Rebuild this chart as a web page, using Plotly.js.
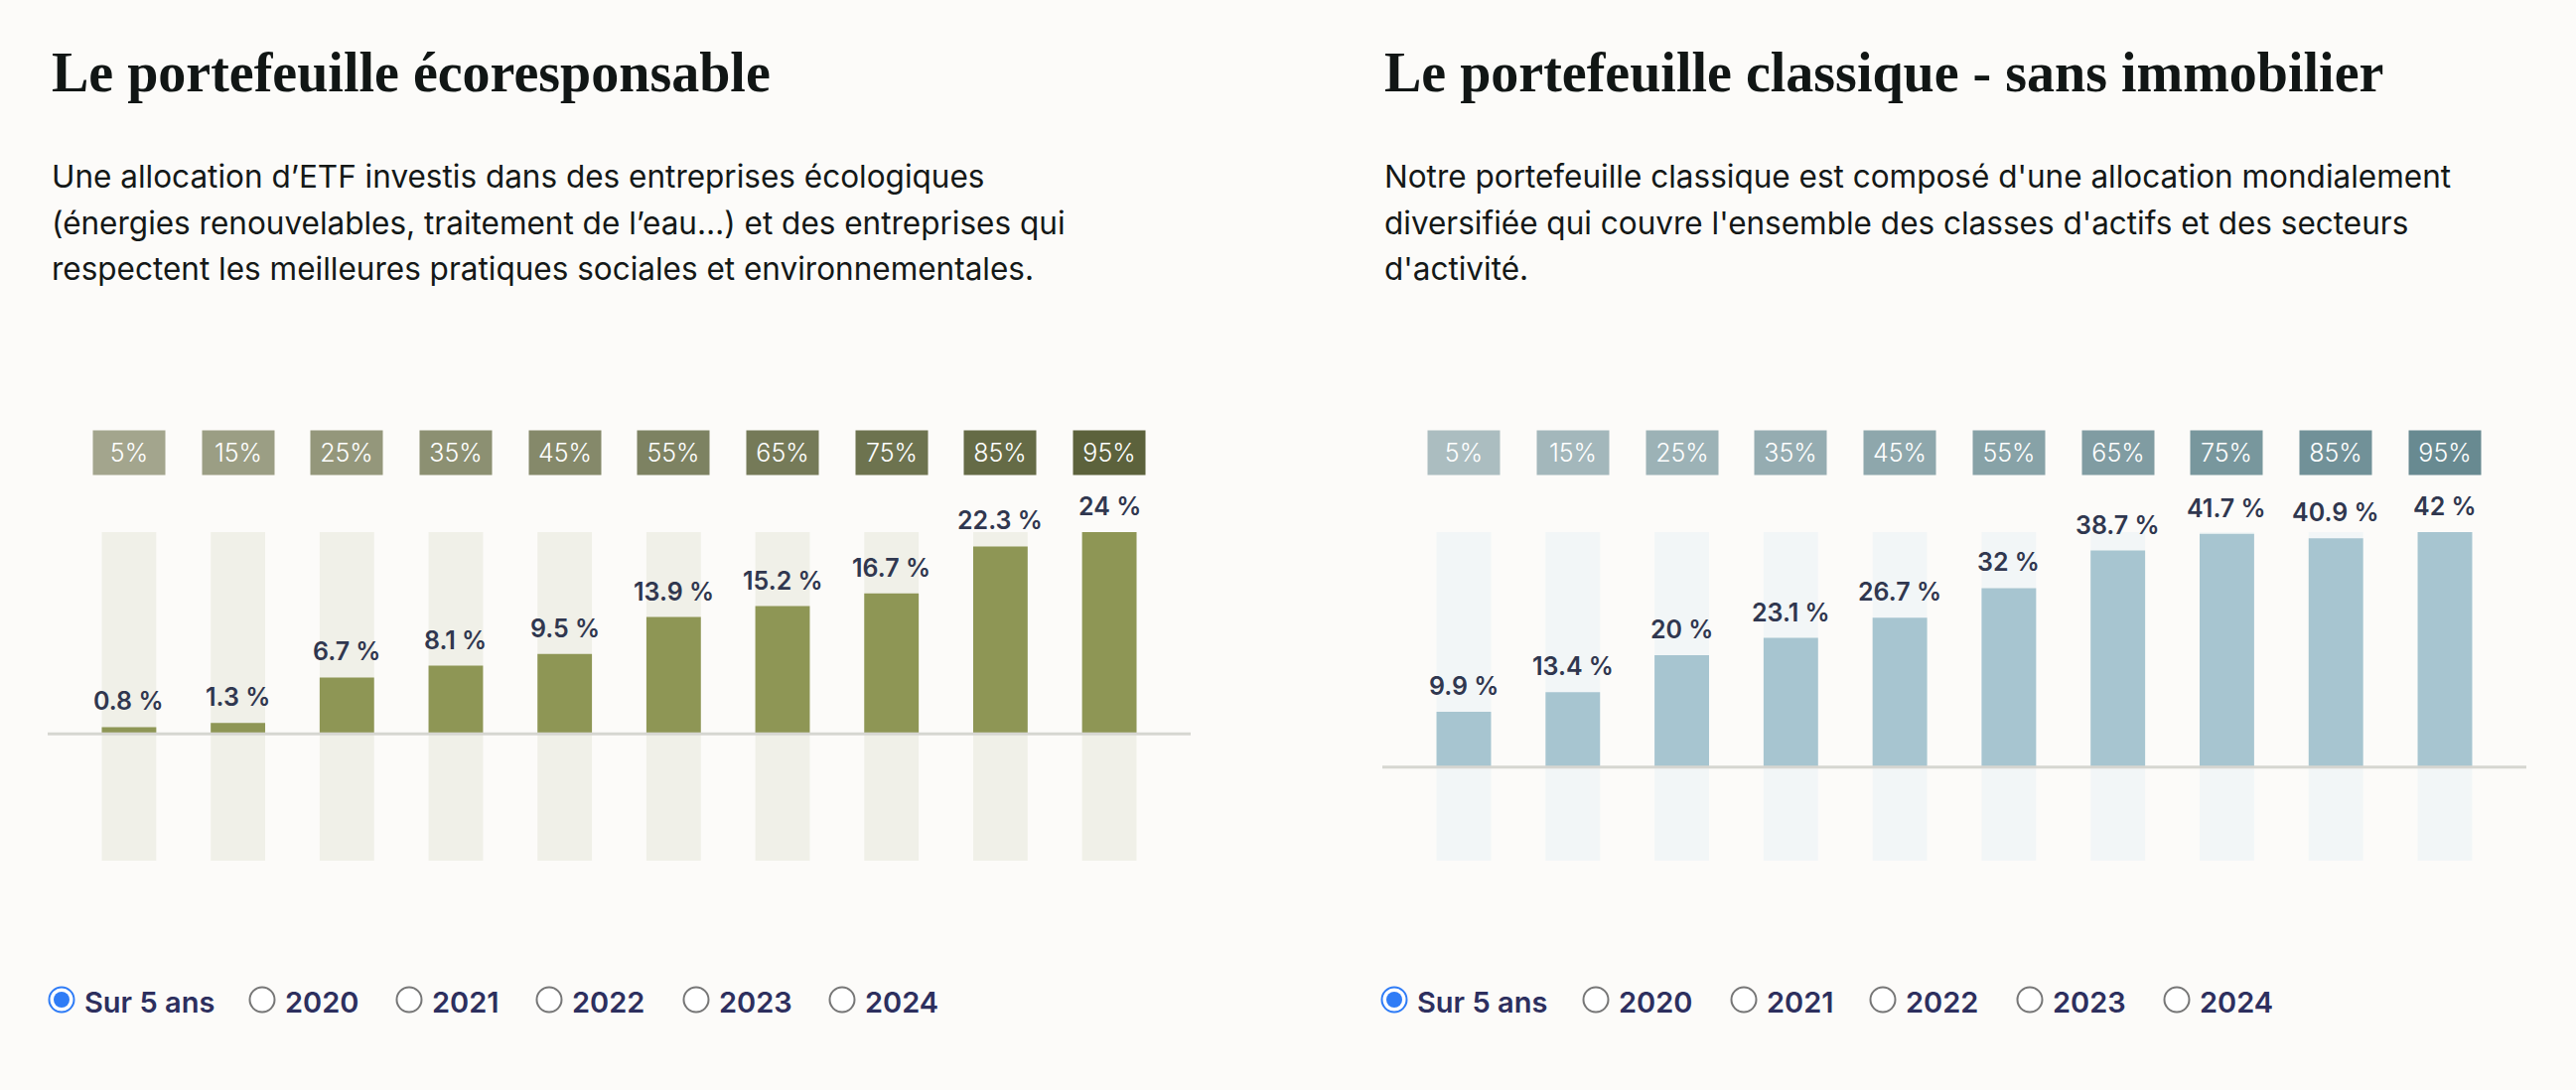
<!DOCTYPE html>
<html>
<head>
<meta charset="utf-8">
<script src="https://cdn.plot.ly/plotly-3.0.1.min.js"></script>
<style>
  html, body { margin: 0; padding: 0; background: #fcfbf9; }
  #chart { width: 2594px; height: 1098px; }
</style>
</head>
<body>
<div id="chart"></div>
<script>
// ---------- DATA ----------
const percentiles = ['5%', '15%', '25%', '35%', '45%', '55%', '65%', '75%', '85%', '95%'];

const ecoTitle = 'Le portefeuille écoresponsable';
const ecoDescription = [
  'Une allocation d’ETF investis dans des entreprises écologiques',
  '(énergies renouvelables, traitement de l’eau…) et des entreprises qui',
  'respectent les meilleures pratiques sociales et environnementales.'
];
const ecoValues = [0.8, 1.3, 6.7, 8.1, 9.5, 13.9, 15.2, 16.7, 22.3, 24];
const ecoScale = [-15.1, 24];

const classicTitle = 'Le portefeuille classique - sans immobilier';
const classicDescription = [
  "Notre portefeuille classique est composé d'une allocation mondialement",
  "diversifiée qui couvre l'ensemble des classes d'actifs et des secteurs",
  "d'activité."
];
const classicValues = [9.9, 13.4, 20, 23.1, 26.7, 32, 38.7, 41.7, 40.9, 42];
const classicScale = [-16.7, 42];

const periodOptions = ['Sur 5 ans', '2020', '2021', '2022', '2023', '2024'];
const selectedPeriod = 'Sur 5 ans';

// ---------- STYLE ----------
const W = 2594, H = 1098;
const px = x => x / W;
const py = y => 1 - y / H;

const ecoBoxColors = ['#a3a58d', '#9b9e84', '#94977b', '#8c9072', '#85896a', '#7d8262', '#757a58', '#6d734f', '#656b46', '#5c623c'];
const classicBoxColors = ['#abbdc0', '#a3b7bb', '#9cb2b6', '#95acb1', '#8ea7ac', '#87a2a7', '#809ca2', '#78979d', '#719198', '#688a91'];

const panels = [
  { title: ecoTitle, desc: ecoDescription, values: ecoValues, scale: ecoScale,
    bar: '#8e9655', bg: '#f0f0e8', boxes: ecoBoxColors, left: 48, right: 1199,
    textX: 50, radioX: [62, 264, 412, 553, 701, 848] },
  { title: classicTitle, desc: classicDescription, values: classicValues, scale: classicScale,
    bar: '#a7c5d0', bg: '#f2f6f7', boxes: classicBoxColors, left: 1392, right: 2544,
    textX: 1392, radioX: [1404, 1607, 1756, 1896, 2044, 2192] }
];

const bgTop = 536, bgBottom = 867;
const traces = [];
const annotations = [];
const shapes = [];
const layout = {
  width: W, height: H,
  margin: { l: 0, r: 0, t: 0, b: 0 },
  paper_bgcolor: '#fcfbf9',
  plot_bgcolor: 'rgba(0,0,0,0)',
  showlegend: false,
  barmode: 'overlay',
  hovermode: false,
  font: { family: 'Inter, Roboto, sans-serif' }
};

panels.forEach((p, i) => {
  const xa = i === 0 ? 'x' : 'x2';
  const ya = i === 0 ? 'y' : 'y2';
  const xKey = i === 0 ? 'xaxis' : 'xaxis2';
  const yKey = i === 0 ? 'yaxis' : 'yaxis2';

  layout[xKey] = {
    domain: [px(p.left), px(p.right)],
    type: 'category',
    categoryorder: 'array', categoryarray: percentiles,
    range: [-0.747, percentiles.length - 1 + 0.747],
    showticklabels: false, showgrid: false, zeroline: false, showline: false, ticks: '',
    fixedrange: true
  };
  layout[yKey] = {
    domain: [py(bgBottom), py(bgTop)],
    range: p.scale,
    showticklabels: false, showgrid: false, zeroline: false, showline: false, ticks: '',
    fixedrange: true
  };

  // background columns spanning the whole scale
  traces.push({
    type: 'bar', xaxis: xa, yaxis: ya,
    x: percentiles,
    base: percentiles.map(() => p.scale[0]),
    y: percentiles.map(() => p.scale[1] - p.scale[0]),
    width: 0.5,
    marker: { color: p.bg, line: { width: 0 } },
    hoverinfo: 'skip'
  });
  // value bars
  traces.push({
    type: 'bar', xaxis: xa, yaxis: ya,
    x: percentiles, y: p.values,
    width: 0.5,
    marker: { color: p.bar, line: { width: 0 } },
    hoverinfo: 'skip'
  });

  // zero line
  shapes.push({
    type: 'line', xref: xa + ' domain', yref: ya,
    x0: 0, x1: 1, y0: 0, y1: 0,
    line: { color: '#d6d6d1', width: 3 }, layer: 'above'
  });

  // value labels
  p.values.forEach((v, k) => {
    annotations.push({
      xref: xa, yref: ya, x: percentiles[k], y: v,
      text: v + ' %', showarrow: false, yanchor: 'bottom', yshift: 9,
      font: { family: 'Inter, Roboto, sans-serif', size: 25, weight: 600, color: '#30374f' }
    });
  });

  // percentile boxes
  percentiles.forEach((lab, k) => {
    annotations.push({
      xref: xa, yref: 'paper', x: lab, y: py(456),
      text: lab, showarrow: false, yanchor: 'middle',
      width: 72, height: 44, borderpad: 0,
      bgcolor: p.boxes[k],
      font: { family: 'Inter, Roboto, sans-serif', size: 25, weight: 300, color: '#ffffff' }
    });
  });

  // title
  annotations.push({
    xref: 'paper', yref: 'paper', x: px(p.textX), y: py(73),
    xanchor: 'left', yanchor: 'middle', showarrow: false,
    text: '<b>' + p.title + '</b>',
    font: { family: 'Liberation Serif, serif', size: 56, color: '#111615' }
  });

  // description lines
  const lineCenters = [177, 224, 270];
  p.desc.forEach((line, k) => {
    annotations.push({
      xref: 'paper', yref: 'paper', x: px(p.textX), y: py(lineCenters[k]),
      xanchor: 'left', yanchor: 'middle', showarrow: false, align: 'left',
      text: line,
      font: { family: 'Inter, Roboto, sans-serif', size: 31.5, weight: 400, color: '#141817' }
    });
  });

  // radio group
  periodOptions.forEach((opt, k) => {
    const cx = p.radioX[k], cy = 1007, r = 12.5;
    const sel = opt === selectedPeriod;
    shapes.push({
      type: 'circle', xref: 'paper', yref: 'paper',
      x0: px(cx - r), x1: px(cx + r), y0: py(cy + r), y1: py(cy - r),
      line: { color: sel ? '#2f7cf6' : '#777777', width: 2 },
      fillcolor: '#ffffff', layer: 'above'
    });
    if (sel) {
      const ri = 8;
      shapes.push({
        type: 'circle', xref: 'paper', yref: 'paper',
        x0: px(cx - ri), x1: px(cx + ri), y0: py(cy + ri), y1: py(cy - ri),
        line: { width: 0 }, fillcolor: '#2f7cf6', layer: 'above'
      });
    }
    annotations.push({
      xref: 'paper', yref: 'paper', x: px(cx + 21), y: py(1010),
      xanchor: 'left', yanchor: 'middle', showarrow: false,
      text: opt,
      font: { family: 'Inter, Roboto, sans-serif', size: 29, weight: 600, color: '#2d2f5e' }
    });
  });
});

layout.annotations = annotations;
layout.shapes = shapes;

Plotly.newPlot('chart', traces, layout, { displayModeBar: false, staticPlot: true });
</script>
</body>
</html>
